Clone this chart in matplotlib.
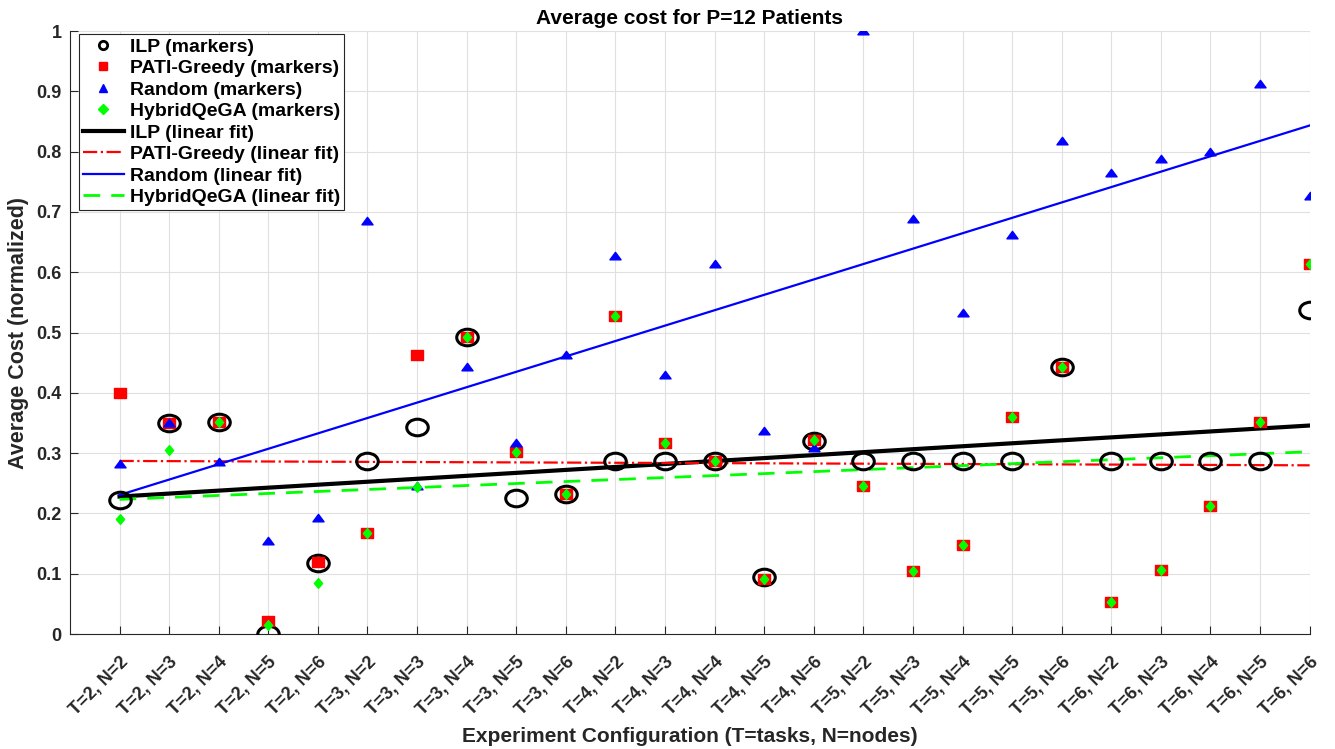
import numpy as np
import matplotlib
matplotlib.use("Agg")
import matplotlib.pyplot as plt
from matplotlib.path import Path
from matplotlib.lines import Line2D

plt.rcParams['font.family'] = ['Liberation Sans', 'DejaVu Sans']
plt.rcParams['font.weight'] = 'bold'

T_vals = [2, 3, 4, 5, 6]
N_vals = [2, 3, 4, 5, 6]
configs = [f"T={t}, N={n}" for t in T_vals for n in N_vals]

ilp = [0.222, 0.350, 0.352, 0.000, 0.118, 0.287, 0.343, 0.492, 0.225, 0.233,
       0.287, 0.287, 0.287, 0.094, 0.320, 0.287, 0.287, 0.287, 0.287, 0.442,
       0.287, 0.287, 0.287, 0.287, 0.537]
pati = [0.400, 0.350, 0.352, 0.022, 0.120, 0.168, 0.462, 0.492, 0.302, 0.233,
        0.528, 0.317, 0.287, 0.092, 0.322, 0.246, 0.105, 0.148, 0.360, 0.442,
        0.053, 0.106, 0.213, 0.352, 0.613]
rand = [0.282, 0.350, 0.285, 0.155, 0.193, 0.685, 0.245, 0.443, 0.316, 0.463,
        0.627, 0.430, 0.613, 0.337, 0.308, 1.000, 0.688, 0.533, 0.662, 0.817,
        0.765, 0.788, 0.800, 0.912, 0.727]
hybrid = [0.190, 0.305, 0.352, 0.015, 0.085, 0.168, 0.243, 0.492, 0.302, 0.233,
          0.528, 0.317, 0.287, 0.092, 0.322, 0.246, 0.105, 0.148, 0.360, 0.442,
          0.053, 0.106, 0.213, 0.352, 0.613]

x = np.arange(1, len(configs) + 1)

# slightly wide marker shapes (the reference is horizontally stretched)
uc = Path.unit_circle()
ellipse = Path(uc.vertices * np.array([1.0, 0.77]), uc.codes)
rect = Path([(-1, -0.8), (1, -0.8), (1, 0.8), (-1, 0.8), (-1, -0.8)],
            [Path.MOVETO, Path.LINETO, Path.LINETO, Path.LINETO, Path.CLOSEPOLY])
tri = Path([(-1, -0.6), (1, -0.6), (0, 0.75), (-1, -0.6)],
           [Path.MOVETO, Path.LINETO, Path.LINETO, Path.CLOSEPOLY])
diam = Path([(0, -1), (0.85, 0), (0, 1), (-0.85, 0), (0, -1)],
            [Path.MOVETO, Path.LINETO, Path.LINETO, Path.LINETO, Path.CLOSEPOLY])

fig = plt.figure(figsize=(13.35, 7.49), dpi=100)
ax = fig.add_axes([0.0524, 0.1535, 0.9286, 0.8051])

txt = '#262626'
green = '#00ff00'
ax.plot(x, ilp, ls='none', marker=ellipse, mfc='none', mec='black', mew=2.2, ms=15.5, zorder=3)
ax.plot(x, pati, ls='none', marker=rect, color='red', ms=9, zorder=4)
ax.plot(x, rand, ls='none', marker=tri, color='blue', ms=8, zorder=5)
ax.plot(x, hybrid, ls='none', marker=diam, color=green, ms=7, zorder=6)

def fit(y):
    p = np.polyfit(x, y, 1)
    return np.polyval(p, x)

ax.plot(x, fit(ilp), '-', color='black', lw=3, zorder=2)
ax.plot(x, fit(pati), '-.', color='red', lw=1.6, zorder=2)
ax.plot(x, fit(rand), '-', color='blue', lw=1.6, zorder=2)
ax.plot(x, fit(hybrid), '--', color=green, lw=2.0, dashes=(6, 4), zorder=2)

ax.set_xlim(0, 25)
ax.set_ylim(0, 1)
ax.set_xticks(x)
ax.set_xticklabels(configs, rotation=45, ha='right', rotation_mode='anchor', fontsize=13, color=txt)
yt = np.round(np.arange(0, 1.01, 0.1), 1)
ax.set_yticks(yt)
ax.set_yticklabels(['0' if v == 0 else ('1' if v == 1 else f"{v:.1f}") for v in yt], fontsize=13, color=txt)
ax.tick_params(direction='in', length=6, colors=txt, labelcolor=txt)
ax.tick_params(axis='x', pad=14)
ax.tick_params(axis='y', pad=6)
ax.grid(True, color='#e0e0e0', lw=0.8)
ax.set_axisbelow(True)
for s in ax.spines.values():
    s.set_color(txt)
    s.set_linewidth(0.8)
ax.spines['top'].set_visible(False)
ax.spines['right'].set_visible(False)

ax.set_xlabel('Experiment Configuration (T=tasks, N=nodes)', fontsize=15, fontweight='bold', color=txt, labelpad=6)
ax.set_ylabel('Average Cost (normalized)', fontsize=15.5, fontweight='bold', color=txt, labelpad=5)
ax.set_title('Average cost for P=12 Patients', fontsize=15, fontweight='bold', color='black', pad=5)

handles = [
    Line2D([], [], ls='none', marker='o', mfc='none', mec='black', mew=2, ms=6),
    Line2D([], [], ls='none', marker='s', color='red', ms=6),
    Line2D([], [], ls='none', marker='^', color='blue', ms=6),
    Line2D([], [], ls='none', marker='D', color=green, ms=5),
    Line2D([], [], ls='-', color='black', lw=3),
    Line2D([], [], ls='-.', color='red', lw=1.6),
    Line2D([], [], ls='-', color='blue', lw=1.6),
    Line2D([], [], ls='--', color=green, lw=2.0, dashes=(6, 4)),
]
labels = ['ILP (markers)', 'PATI-Greedy (markers)', 'Random (markers)', 'HybridQeGA (markers)',
          'ILP (linear fit)', 'PATI-Greedy (linear fit)', 'Random (linear fit)', 'HybridQeGA (linear fit)']
leg = ax.legend(handles, labels, loc='upper left', bbox_to_anchor=(0.0073, 0.995),
                fontsize=14, frameon=True, fancybox=False, framealpha=1,
                edgecolor=txt, borderaxespad=0.0, handlelength=2.1, labelspacing=0.2,
                borderpad=0.2, handletextpad=0.3)
leg.get_frame().set_linewidth(0.8)
for t in leg.get_texts():
    t.set_fontweight('bold')
    t.set_color('black')

fig.savefig('out.png', dpi=100)
